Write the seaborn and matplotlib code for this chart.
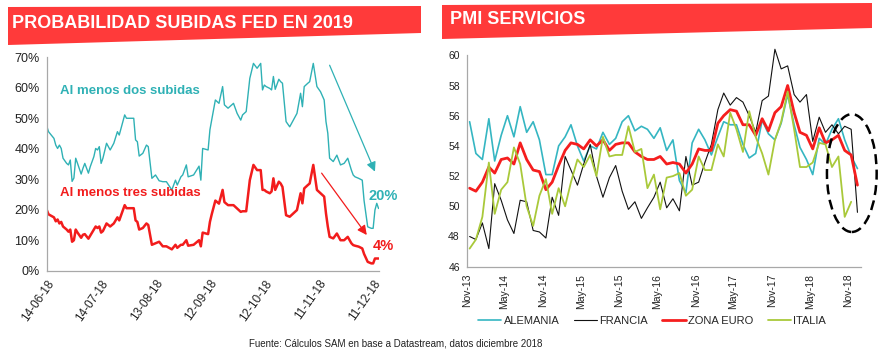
import matplotlib
matplotlib.use("Agg")
import matplotlib.pyplot as plt
import matplotlib.dates as mdates
import matplotlib.ticker as mtick
from matplotlib.patches import Polygon, Ellipse
from matplotlib.lines import Line2D
import seaborn as sns
import pandas as pd

sns.set_style("white")
plt.rcParams['font.family'] = ['Liberation Sans', 'DejaVu Sans']

# ---- left panel: probability (%) of FED hikes in 2019 (days since 14-06-18)
dias = [0, 1, 4, 5, 6, 7, 8, 9, 11, 12,
        13, 14, 15, 16, 17, 19, 20, 21, 23, 24,
        26, 27, 28, 29, 30, 31, 33, 35, 37, 39,
        40, 43, 44, 48, 49, 50, 51, 53, 55, 56,
        58, 60, 62, 64, 66, 69, 71, 72, 74, 75,
        77, 78, 81, 84, 85, 86, 89, 90, 91, 93,
        95, 97, 98, 100, 103, 105, 107, 108, 110, 112,
        114, 116, 118, 119, 120, 121, 123, 124, 125, 126,
        128, 129, 130, 132, 134, 136, 138, 140, 141, 142,
        144, 145, 147, 149, 151, 153, 154, 155, 156, 158,
        160, 162, 164, 166, 168, 169, 170, 172, 174, 175,
        177, 179, 180, 181, 182, 183]
dos_subidas = [47.5, 45.6, 43.4, 41.2, 40.1, 41.2, 40.1, 36.9, 35.2, 34.7,
               36.3, 29.3, 30.4, 36.9, 35.2, 31.7, 33.6, 35.2, 32.0, 34.1,
               37.4, 40.1, 39.6, 40.7, 35.2, 36.9, 41.8, 39.6, 41.8, 45.6,
               44.5, 51.1, 50.0, 50.0, 42.9, 42.3, 37.6, 38.5, 41.2, 40.7,
               30.3, 31.4, 29.5, 29.2, 29.2, 26.5, 29.7, 28.1, 30.8, 31.4,
               34.7, 30.8, 31.4, 34.3, 29.7, 40.1, 39.6, 46.2, 49.5, 56.0,
               54.9, 60.4, 54.4, 53.3, 54.9, 51.6, 49.4, 51.1, 52.2, 63.1,
               68.0, 66.4, 68.0, 59.3, 60.9, 60.4, 59.8, 59.3, 63.7, 59.5,
               62.8, 62.0, 61.5, 48.9, 47.2, 49.4, 51.6, 58.2, 53.8, 60.4,
               61.5, 62.0, 68.0, 60.4, 58.7, 56.0, 48.9, 45.1, 36.9, 35.8,
               37.9, 34.7, 35.2, 36.9, 33.0, 31.4, 30.8, 30.3, 29.7, 23.0,
               14.4, 13.9, 13.9, 19.9, 22.1, 20.4]
tres_subidas = [20.0, 18.5, 17.5, 16.2, 16.8, 15.5, 16.0, 14.5, 13.5, 12.8,
                13.5, 9.5, 10.0, 13.5, 12.5, 10.8, 11.8, 12.0, 10.5, 11.5,
                13.5, 14.5, 14.0, 14.5, 12.5, 13.0, 15.5, 14.5, 15.5, 17.5,
                16.5, 21.5, 20.5, 20.5, 16.5, 16.0, 13.5, 14.0, 15.5, 15.0,
                8.5, 9.0, 9.5, 8.0, 8.0, 7.0, 8.5, 7.5, 8.5, 8.5,
                10.0, 8.2, 8.5, 10.0, 8.0, 12.5, 12.0, 16.0, 18.5, 23.0,
                22.0, 26.5, 22.5, 21.5, 21.5, 20.4, 19.3, 19.5, 19.5, 29.7,
                34.7, 33.0, 33.0, 26.5, 26.5, 26.0, 25.4, 26.0, 30.3, 26.5,
                29.2, 28.6, 27.5, 18.2, 17.7, 18.8, 19.9, 25.4, 22.1, 27.0,
                28.1, 28.6, 34.7, 26.5, 25.4, 24.3, 18.8, 14.5, 11.1, 10.6,
                12.2, 10.0, 10.0, 11.1, 9.0, 8.4, 8.2, 7.9, 7.3, 5.5,
                2.9, 2.4, 2.4, 4.0, 4.0, 4.0]
fed_ticks = ["14-06-18", "14-07-18", "13-08-18", "12-09-18",
             "12-10-18", "11-11-18", "11-12-18"]

# ---- right panel: services PMI, monthly from Nov-13
alemania = [55.6, 53.5, 53.1, 55.8, 53.0, 54.7, 56.0, 54.6, 56.6, 54.9, 55.6, 54.4, 52.1, 52.1,
            54.0, 54.6, 55.4, 54.0, 53.0, 54.0, 53.8, 54.9, 54.1, 54.5, 55.6, 56.0,
            55.0, 55.3, 55.1, 54.5, 55.2, 53.7, 54.4, 51.7, 50.9, 54.2, 55.1, 54.4,
            53.4, 54.6, 55.6, 55.4, 55.4, 54.1, 53.2, 53.5, 55.7, 54.8, 54.4, 55.5,
            57.4, 55.4, 53.9, 53.1, 52.1, 54.5, 54.1, 55.1, 55.8, 54.4, 53.3, 52.5]
francia = [48.0, 47.8, 48.9, 47.2, 51.5, 50.4, 49.1, 48.2, 50.4, 50.3, 48.4, 48.3, 47.9, 50.6,
           49.4, 53.3, 52.4, 51.4, 52.8, 54.1, 52.0, 50.6, 51.9, 52.7, 51.0, 49.8,
           50.3, 49.2, 49.9, 50.6, 51.6, 49.9, 50.5, 49.7, 53.3, 51.4, 51.6, 52.9,
           54.1, 56.4, 57.5, 56.7, 57.2, 56.9, 56.0, 54.9, 57.0, 57.3, 60.4, 59.1,
           59.3, 57.4, 56.9, 57.4, 54.3, 55.9, 54.9, 55.4, 54.8, 55.3, 55.1, 49.6]
zona_euro = [51.2, 51.0, 51.6, 52.6, 52.2, 53.1, 53.2, 52.8, 54.2, 53.1, 52.4, 52.3, 51.1, 51.6,
             52.7, 53.7, 54.2, 54.1, 53.8, 54.4, 54.0, 54.4, 53.7, 54.1, 54.2, 54.2,
             53.6, 53.3, 53.1, 53.1, 53.3, 52.8, 52.9, 52.8, 52.2, 52.8, 53.8, 53.7,
             53.7, 55.5, 56.0, 56.4, 56.3, 55.4, 55.4, 54.7, 55.8, 55.0, 56.2, 56.6,
             58.0, 56.2, 54.9, 54.7, 53.8, 55.2, 54.2, 54.4, 54.7, 53.7, 53.4, 51.4]
italia = [47.2, 47.8, 49.3, 52.9, 49.5, 51.1, 51.6, 53.9, 52.8, 50.0, 48.7, 50.7, 51.8, 49.5,
          51.2, 50.0, 51.6, 53.1, 52.6, 53.4, 52.0, 54.6, 53.3, 53.4, 53.4, 55.3,
          53.6, 53.8, 51.2, 52.1, 49.8, 51.9, 52.0, 52.2, 50.7, 51.1, 53.3, 52.4,
          52.4, 54.1, 53.3, 56.2, 55.1, 53.6, 56.3, 54.6, 53.5, 52.1, 54.4, 55.6,
          57.6, 55.1, 52.6, 52.6, 52.9, 54.2, 54.1, 52.6, 53.3, 49.3, 50.3]
paises = ["ALEMANIA", "FRANCIA", "ZONA EURO", "ITALIA"]
colores = ["#35B6C2", "#111111", "#F51E1E", "#A9C93A"]
grosores = [1.2, 0.8, 2.0, 1.3]

TEAL = "#2FB1B5"
RED = "#F21C1C"
BANNER = "#FF3A3A"
GRIS = "#A8A8A8"

W, H = 885, 354
fig = plt.figure(figsize=(W / 100, H / 100), dpi=100)


def fx(px):
    return px / W


def fy(py):
    return 1 - py / H


def banner(x0, x1, top0, top1, bot0, bot1, texto, tx):
    poly = Polygon([(fx(x0), fy(top0)), (fx(x1), fy(top1)),
                    (fx(x1), fy(bot1)), (fx(x0), fy(bot0))],
                   closed=True, transform=fig.transFigure,
                   facecolor=BANNER, edgecolor="none")
    fig.patches.append(poly)
    fig.text(fx(tx), fy((top0 + bot0) / 2 - 3), texto, color="white",
             fontsize=13, fontweight="bold", va="center", ha="left")


def style_axes(ax):
    sns.despine(ax=ax)
    for s in ("left", "bottom"):
        ax.spines[s].set_color(GRIS)
        ax.spines[s].set_linewidth(0.9)
    ax.tick_params(axis="both", which="major", direction="out", length=3,
                   width=0.8, color=GRIS, colors="#222222", pad=2)
    ax.set_xlabel("")
    ax.set_ylabel("")
    ax.grid(False)


# ================= left panel =================
ax1 = fig.add_axes([fx(46.7), fy(270.7), fx(379.3 - 46.7), (270.7 - 57.3) / H])
inicio = pd.Timestamp("2018-06-14")
df_fed = pd.DataFrame({
    "fecha": inicio + pd.to_timedelta(dias, unit="D"),
    "dos": dos_subidas,
    "tres": tres_subidas,
})
sns.lineplot(data=df_fed, x="fecha", y="dos", ax=ax1, color=TEAL, lw=1.0,
             estimator=None)
sns.lineplot(data=df_fed, x="fecha", y="tres", ax=ax1, color=RED, lw=1.8,
             estimator=None)
ax1.set_ylim(0, 70)
ax1.set_xlim(inicio, inicio + pd.Timedelta(days=183.4))
ax1.yaxis.set_major_locator(mtick.MultipleLocator(10))
ax1.yaxis.set_major_formatter(mtick.PercentFormatter(decimals=0))
tick_fechas = pd.to_datetime(fed_ticks, format="%d-%m-%y")
ax1.set_xticks(tick_fechas)
ax1.set_xticklabels(fed_ticks, rotation=55, ha="right", rotation_mode="anchor")
style_axes(ax1)
ax1.tick_params(axis="y", labelsize=9)
ax1.tick_params(axis="x", labelsize=8.5)

d = lambda n: inicio + pd.Timedelta(days=n)
ax1.text(d(7.5), 59.0, "Al menos dos subidas", color=TEAL, fontsize=9.5,
         fontweight="bold", va="center")
ax1.text(d(7.3), 25.4, "Al menos tres subidas", color=RED, fontsize=9.5,
         fontweight="bold", va="center")
ax1.text(d(185.5), 24.6, "20%", color=TEAL, fontsize=10.5, fontweight="bold",
         ha="center", va="center", clip_on=False)
ax1.text(d(185.5), 8.1, "4%", color=RED, fontsize=10.5, fontweight="bold",
         ha="center", va="center", clip_on=False)
ax1.annotate("", xy=(d(181), 32.5), xytext=(d(156), 67.4),
             arrowprops=dict(arrowstyle="-|>", color=TEAL, lw=0.9,
                             mutation_scale=14, shrinkA=0, shrinkB=0))
ax1.annotate("", xy=(d(176.5), 11.7), xytext=(d(151.6), 32.0),
             arrowprops=dict(arrowstyle="-|>", color=RED, lw=0.9,
                             mutation_scale=14, shrinkA=0, shrinkB=0))

# ================= right panel =================
ax2 = fig.add_axes([fx(466.7), fy(266.7), fx(861 - 466.7), (266.7 - 55.3) / H])
series = [alemania, francia, zona_euro, italia]
filas = []
for pais, vals in zip(paises, series):
    fechas = pd.date_range("2013-11-01", periods=len(vals), freq="MS") + pd.Timedelta(days=14)
    filas.append(pd.DataFrame({"fecha": fechas, "pmi": vals, "pais": pais}))
df_pmi = pd.concat(filas, ignore_index=True)

for pais, col, lw in zip(paises, colores, grosores):
    sns.lineplot(data=df_pmi[df_pmi["pais"] == pais], x="fecha", y="pmi",
                 ax=ax2, color=col, lw=lw, estimator=None, clip_on=False)

ax2.set_ylim(46, 60)
ax2.set_xlim(pd.Timestamp("2013-11-01"), pd.Timestamp("2019-01-01"))
ax2.yaxis.set_major_locator(mtick.MultipleLocator(2))
ax2.xaxis.set_major_locator(mdates.MonthLocator(bymonth=[5, 11]))
ax2.xaxis.set_major_formatter(mdates.DateFormatter("%b-%y"))
plt.setp(ax2.get_xticklabels(), rotation=90, ha="center", va="top")
style_axes(ax2)
ax2.tick_params(axis="both", labelsize=7.5)

# dashed ellipse around the last months
centro = mdates.date2num(pd.Timestamp("2018-11-18"))
ax2.add_patch(Ellipse((centro, 52.2), width=238, height=7.8, fill=False,
                      edgecolor="black", lw=1.8, linestyle=(0, (4, 2.2)),
                      clip_on=False, zorder=5))

handles = [Line2D([0], [0], color=c, lw=lw) for c, lw in zip(colores, grosores)]
fig.legend(handles, paises, loc="center", bbox_to_anchor=(fx(652), fy(320.7)),
           ncol=4, frameon=False, fontsize=8, handlelength=2.1,
           handletextpad=0.2, columnspacing=1.3, borderpad=0)

# ================= titles and source =================
banner(8, 421, 7, 6, 45, 33, "PROBABILIDAD SUBIDAS FED EN 2019", 12)
banner(442, 872, 5, 3, 39, 28, "PMI SERVICIOS", 450)
fig.text(fx(249), fy(343), "Fuente: Cálculos SAM en base a Datastream, datos diciembre 2018",
         fontsize=7, va="center", ha="left", color="#222222")

fig.savefig("out.png", dpi=100)
